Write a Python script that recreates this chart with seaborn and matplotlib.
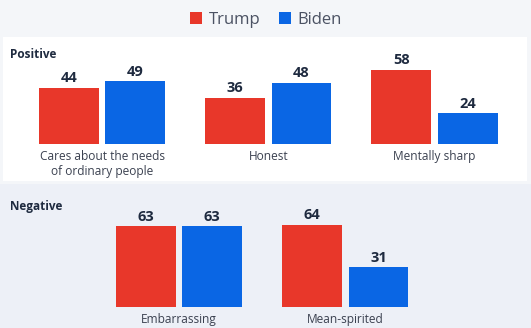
import matplotlib
matplotlib.use("Agg")
import matplotlib.pyplot as plt
import matplotlib.patches as mpatches
import pandas as pd
import seaborn as sns

sns.set_theme(style="white")
plt.rcParams["font.family"] = ["Open Sans", "DejaVu Sans"]

# data
candidates = ["Trump", "Biden"]
positive_traits = ["Cares about the needs\nof ordinary people", "Honest", "Mentally sharp"]
positive_trump = [44, 36, 58]
positive_biden = [49, 48, 24]
negative_traits = ["Embarrassing", "Mean-spirited"]
negative_trump = [63, 64]
negative_biden = [63, 31]

colors = {"Trump": "#e8372a", "Biden": "#0a66e4"}
dark = "#1e2a3f"
label_gray = "#3b4150"

W, H = 531, 328
fig = plt.figure(figsize=(W / 100, H / 100), dpi=100)
fig.patch.set_facecolor("#f4f6f9")

# section panels (pixel coords from top-left)
def px_rect(x0, y0, x1, y1, color):
    fig.patches.append(mpatches.Rectangle(
        (x0 / W, 1 - y1 / H), (x1 - x0) / W, (y1 - y0) / H,
        transform=fig.transFigure, facecolor=color, edgecolor="none", zorder=-5))

px_rect(3, 37, 527, 181, "white")
px_rect(0, 184, 531, 328, "#edf0f7")

scale = 1.28      # pixels per percentage point
unit = 166.3      # pixels per category


def make_panel(traits, trump, biden, center0, top_px, base_px):
    df = pd.DataFrame({
        "Trait": traits * 2,
        "Candidate": ["Trump"] * len(traits) + ["Biden"] * len(traits),
        "Value": trump + biden,
    })
    ax = fig.add_axes([0, 1 - base_px / H, 1, (base_px - top_px) / H])
    sns.barplot(data=df, x="Trait", y="Value", hue="Candidate", hue_order=candidates,
                palette=colors, saturation=1, width=0.8, gap=0.1, linewidth=0, ax=ax)
    ax.set_xlim(-center0 / unit, (W - center0) / unit)
    ax.set_ylim(0, (base_px - top_px) / scale)
    ax.patch.set_alpha(0)
    for s in ax.spines.values():
        s.set_visible(False)
    ax.set_yticks([])
    ax.set_xlabel("")
    ax.set_ylabel("")
    ax.tick_params(axis="x", length=0, pad=4, labelsize=8.6, labelcolor=label_gray)
    for lbl in ax.get_xticklabels():
        lbl.set_linespacing(1.2)
    for cont in ax.containers:
        ax.bar_label(cont, padding=2, fontsize=10.5, fontweight="bold", color=dark)
    handles, labels = ax.get_legend_handles_labels()
    ax.get_legend().remove()
    return handles, labels


handles, labels = make_panel(positive_traits, positive_trump, positive_biden, 102, 36, 144)
make_panel(negative_traits, negative_trump, negative_biden, 179, 188, 307)

fig.text(10 / W, 1 - 58 / H, "Positive", fontsize=8.5, fontweight="bold", color=dark, va="baseline")
fig.text(10 / W, 1 - 210 / H, "Negative", fontsize=8.5, fontweight="bold", color=dark, va="baseline")

fig.legend(handles, labels, loc="center", bbox_to_anchor=(266 / W, 1 - 19.5 / H),
           ncol=2, frameon=False, fontsize=12, handlelength=0.72, handleheight=0.72,
           handletextpad=0.4, columnspacing=1.1, labelcolor="#4b5263")

fig.savefig("out.png", dpi=100, facecolor=fig.get_facecolor())
